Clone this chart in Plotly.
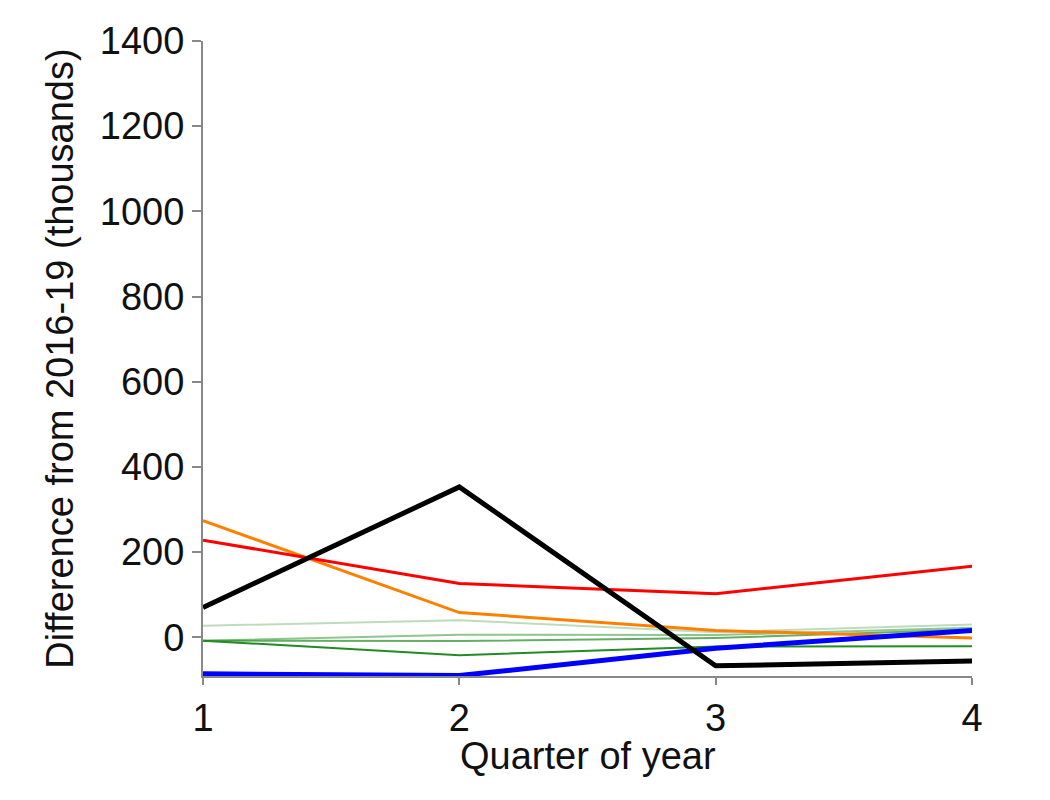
import plotly.graph_objects as go

quarters = [1, 2, 3, 4]
green_a = [27, 40, 12, 30]
green_b = [-8, 6, 5, 22]
green_c = [-8, -9, -2, 18]
green_d = [-8, -42, -22, -21]
orange = [274, 58, 16, -2]
red = [228, 126, 102, 167]
blue = [-86, -90, -26, 16]
black = [70, 353, -67, -56]

y_ticks = [0, 200, 400, 600, 800, 1000, 1200, 1400]

fig = go.Figure()

def add(y, color, width):
    fig.add_trace(go.Scatter(x=quarters, y=y, mode="lines",
                             line=dict(color=color, width=width),
                             showlegend=False, hoverinfo="skip"))

add(green_a, "rgba(34,139,34,0.3)", 2)
add(green_b, "rgba(34,139,34,0.5)", 2)
add(green_c, "rgba(34,139,34,0.7)", 2)
add(green_d, "rgba(34,139,34,1)", 2)
add(orange, "#ff8000", 3)
add(red, "#ff0000", 3)
add(blue, "#0000ff", 5)
add(black, "#000000", 5)

font_family = "Liberation Sans, Arial, sans-serif"

fig.update_layout(
    width=1050, height=800,
    paper_bgcolor="white", plot_bgcolor="white",
    margin=dict(l=195, r=86, t=27, b=132),
    font=dict(family=font_family, color="#111111"),
    xaxis=dict(
        range=[1, 4], tickvals=quarters, ticktext=[str(q) for q in quarters],
        showgrid=False, zeroline=False, showline=True, linecolor="#888888",
        linewidth=2, ticks="outside", ticklen=7, tickcolor="#888888",
        tickwidth=2, tickfont=dict(size=38),
    ),
    yaxis=dict(
        range=[-91, 1400], tickvals=y_ticks,
        showgrid=False, zeroline=False, showline=True, linecolor="#888888",
        linewidth=2, ticks="outside", ticklen=9, tickcolor="#888888",
        tickwidth=2, tickfont=dict(size=38),
        title=dict(text="Difference from 2016-19 (thousands)", font=dict(size=38), standoff=15),
    ),
    annotations=[dict(text="Quarter of year", xref="paper", yref="paper",
                      x=0.5, y=0, xanchor="center", yanchor="middle",
                      yshift=-80, showarrow=False, font=dict(size=38))],
)

fig.write_html("out.html")
